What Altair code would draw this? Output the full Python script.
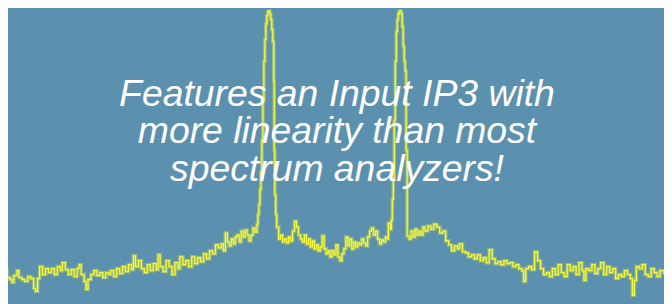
import altair as alt
import pandas as pd

# Spectrum trace: frequency position (screen-like units) and level (height above floor)
freq = [0, 3, 5, 7, 10, 12, 14, 17, 19, 22, 25, 28, 31, 34, 36, 38, 40, 43, 46, 49,
        52, 55, 58, 61, 63, 66, 69, 72, 75, 78, 80, 82, 85, 87, 89, 92, 95, 98, 101, 104,
        107, 110, 112, 115, 118, 121, 124, 127, 130, 133, 135, 137, 140, 143, 146, 149, 152, 155, 158, 160,
        162, 165, 168, 171, 174, 177, 180, 182, 185, 188, 191, 194, 197, 200, 203, 206, 209, 212, 215, 218,
        221, 224, 226, 228, 230, 232, 234, 236, 238, 240, 242, 244, 246, 248, 250, 252, 254, 256, 258, 260,
        261, 262, 263, 264, 265, 266, 267, 268, 269, 270, 271, 272, 273, 274, 275, 276, 277, 277.5, 278, 279,
        280, 282, 284, 286, 288, 290, 292, 294, 296, 298, 300, 302, 304, 306, 308, 310, 312, 314, 316, 318,
        320, 322, 324, 326, 328, 330, 332, 334, 336, 338, 340, 342, 344, 346, 348, 350, 352, 354, 356, 358,
        360, 362, 364, 366, 368, 370, 372, 374, 376, 378, 380, 382, 384, 386, 388, 390, 392, 393, 395, 396,
        397, 398, 399, 400, 401, 402, 403, 404, 405, 406, 407, 408, 409, 410, 411, 412, 414, 416, 418, 420,
        422, 424, 426, 428, 430, 433, 436, 439, 442, 445, 448, 451, 454, 457, 460, 463, 465, 468, 471, 474,
        477, 480, 483, 486, 489, 492, 495, 498, 501, 504, 507, 510, 513, 516, 519, 522, 525, 528, 530, 532,
        535, 538, 541, 544, 547, 550, 553, 556, 559, 562, 565, 568, 571, 574, 577, 580, 583, 586, 589, 591,
        593, 596, 599, 602, 605, 608, 611, 614, 617, 620, 623, 626, 629, 632, 635, 638, 640, 642, 644, 647,
        650, 653, 656, 659, 662, 665, 668, 672]

level = [25, 26, 33, 25, 23, 20, 27, 32, 25, 23, 21, 26, 24, 14, 11, 24, 36, 28, 34, 30,
         34, 28, 36, 32, 40, 33, 28, 33, 26, 34, 38, 28, 21, 13, 23, 28, 32, 27, 30, 25,
         30, 28, 32, 26, 34, 29, 36, 31, 38, 33, 47, 36, 42, 34, 30, 38, 32, 39, 33, 48,
         36, 31, 42, 36, 28, 40, 34, 46, 38, 42, 36, 46, 39, 45, 41, 49, 44, 52, 49, 58,
         55, 59, 52, 70, 61, 57, 64, 59, 66, 68, 61, 72, 66, 73, 68, 62, 68, 75, 71, 79,
         89, 99, 114, 132, 164, 204, 244, 266, 282, 290, 294, 296, 292, 286, 276, 264, 224, 154, 109, 89,
         76, 64, 68, 61, 64, 60, 66, 62, 72, 82, 76, 68, 64, 61, 68, 59, 64, 56, 62, 54,
         58, 52, 56, 67, 54, 49, 52, 46, 52, 48, 58, 46, 42, 49, 54, 66, 57, 64, 54, 61,
         56, 60, 58, 64, 60, 57, 66, 72, 75, 68, 72, 64, 59, 63, 61, 66, 64, 80, 74, 83,
         104, 124, 184, 244, 274, 286, 292, 295, 296, 292, 279, 259, 244, 234, 154, 67, 64, 72, 66, 74,
         68, 72, 68, 76, 72, 77, 74, 79, 76, 70, 72, 62, 58, 52, 57, 54, 59, 51, 50, 46,
         48, 44, 48, 42, 45, 40, 53, 44, 39, 41, 38, 42, 39, 40, 36, 38, 34, 32, 21, 34,
         36, 33, 51, 42, 34, 28, 30, 26, 34, 28, 38, 30, 26, 38, 32, 36, 28, 40, 32, 22,
         34, 32, 38, 29, 34, 40, 28, 36, 30, 34, 24, 28, 26, 32, 28, 24, 7, 22, 36, 34,
         38, 28, 26, 34, 30, 26, 32, 28]

caption = ["Features an Input IP3 with",
           "more linearity than most",
           "spectrum analyzers!"]

df = pd.DataFrame({"freq": freq, "level": level})

x_enc = alt.X("freq:Q", scale=alt.Scale(domain=[8, 672], nice=False, zero=False), axis=None)
y_enc = alt.Y("level:Q", scale=alt.Scale(domain=[0, 296], nice=False, zero=False), axis=None)

base = alt.Chart(df).encode(x=x_enc, y=y_enc)

glow = base.mark_line(interpolate="step-after", color="#e2ec3a", strokeWidth=3.6,
                      opacity=0.45, clip=True)
core = base.mark_line(interpolate="step-after", color="#f6f83a", strokeWidth=1.3,
                      clip=True)

text = alt.Chart(pd.DataFrame({"k": [0]})).mark_text(
    text=caption,
    font="Liberation Sans",
    fontStyle="italic",
    fontWeight="normal",
    fontSize=37.8,
    lineHeight=38,
    color="white",
    align="center",
    baseline="alphabetic",
).encode(x=alt.value(333), y=alt.value(97))

chart = alt.layer(glow, core, text).properties(
    width=664,
    height=296,
    autosize=alt.AutoSizeParams(type="fit", contains="padding"),
    padding=0,
    background="#5b91af",
).configure_view(stroke=None, fill="#5b91af")

chart.save("out.html", embed_options={"renderer": "svg", "actions": False})
